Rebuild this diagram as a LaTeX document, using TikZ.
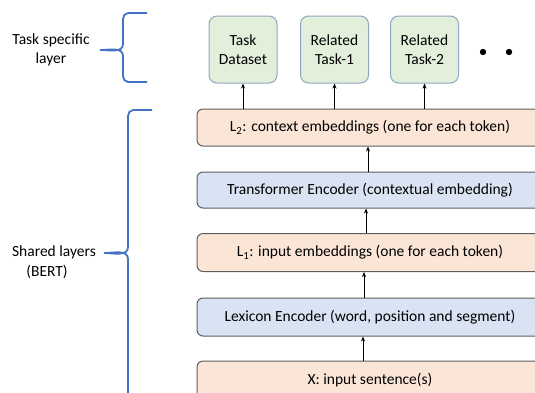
\documentclass[tikz,border=0pt]{standalone}
\usepackage{fontspec}
\setmainfont{Carlito}
\usetikzlibrary{arrows.meta}
\definecolor{orfill}{HTML}{FBE5D6}
\definecolor{blfill}{HTML}{DAE3F3}
\definecolor{grfill}{HTML}{E2EFDA}
\definecolor{grborder}{HTML}{8FA6C4}
\definecolor{wborder}{HTML}{5E5E5E}
\definecolor{bracecol}{HTML}{4472C4}
\tikzset{
  every node/.style={font=\fontsize{15.5}{19}\selectfont},
  taskbox/.style={draw=grborder, fill=grfill, line width=1pt, rounded corners=8pt,
    minimum width=68pt, minimum height=67pt, align=center, inner sep=0pt},
  wide/.style={draw=wborder, line width=1pt, rounded corners=6pt,
    minimum width=346pt, inner sep=0pt},
  orbox/.style={wide, fill=orfill},
  blbox/.style={wide, fill=blfill},
  arr/.style={-{Stealth[length=5pt,width=4pt]}, line width=0.9pt, black},
  brace/.style={draw=bracecol, line width=1.8pt},
  lbl/.style={align=center, inner sep=0pt},
}
\begin{document}
\begin{tikzpicture}[x=1pt,y=-1pt]
\useasboundingbox (0,0) rectangle (535,392);
\clip (0,0) rectangle (535,392);

% task boxes
\node[taskbox] (td) at (243,49.5) {Task\\Dataset};
\node[taskbox] (r1) at (334.5,49.5) {Related\\Task-1};
\node[taskbox] (r2) at (424.5,49.5) {Related\\Task-2};
\fill (r2.east) ++(24,2.5) circle (3.2pt) coordinate (d1);
\fill (r2.east) ++(50,2.5) circle (3.2pt) coordinate (d2);

% wide boxes
\node[orbox, minimum height=37pt] (l2) at (370,127.5) {L\textsubscript{2}: context embeddings (one for each token)};
\node[blbox, minimum height=36pt] (te) at (370,190) {Transformer Encoder (contextual embedding)};
\node[orbox, minimum height=38pt] (l1) at (370,252.5) {L\textsubscript{1}: input embeddings (one for each token)};
\node[blbox, minimum height=38pt] (le) at (370,317) {Lexicon Encoder (word, position and segment)};
\node[orbox, minimum height=38pt] (x) at (370,380) {X: input sentence(s)};

% arrows
\draw[arr] (l2.north -| td) -- (td.south);
\draw[arr] (l2.north -| r1) -- (r1.south);
\draw[arr] (l2.north -| r2) -- (r2.south);
\draw[arr] ([xshift=-2pt]te.north) -- ([xshift=-2pt]l2.south);
\draw[arr] ([xshift=-4pt]l1.north) -- ([xshift=-4pt]te.south);
\draw[arr] ([xshift=-6pt]le.north) -- ([xshift=-6pt]l1.south);
\draw[arr] ([xshift=-7pt]x.north) -- ([xshift=-7pt]le.south);

% braces
\draw[brace] (147,13) -- (128,13) to[out=180,in=90] (123,19) -- (123,44)
  to[out=-90,in=0] (100,50) coordinate (tip1) to[out=0,in=90] (123,56) -- (123,76)
  to[out=-90,in=180] (128,82) -- (147,82);
\draw[brace] (152,110) -- (133,110) to[out=180,in=90] (128,116) -- (128,247)
  to[out=-90,in=0] (104,253) coordinate (tip2) to[out=0,in=90] (128,259) -- (128,400);

\node[lbl] (tsl) at (51,49.5) {Task specific\\layer};
\node[lbl, anchor=east] (sl) at (96,252) {Shared layers};
\node[lbl] (bert) at (47,272) {(BERT)};
\end{tikzpicture}
\end{document}
